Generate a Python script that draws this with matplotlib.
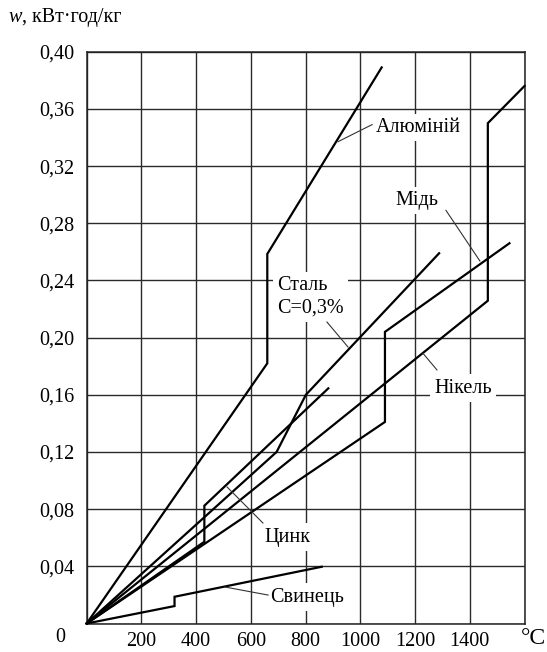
import matplotlib
matplotlib.use("Agg")
import matplotlib.pyplot as plt

plt.rcParams['font.family'] = ['Liberation Serif', 'DejaVu Serif']

# Specific heat content w (kWh/kg) versus temperature (°C)
al_t = [0, 660, 660, 1078]
al_w = [0, 0.182, 0.2585, 0.389]

steel_t = [0, 694, 801, 1288]
steel_w = [0, 0.120, 0.160, 0.259]

zinc_t = [0, 430, 430, 883]
zinc_w = [0, 0.0572, 0.0824, 0.1645]

copper_t = [0, 1090, 1090, 1545]
copper_w = [0, 0.141, 0.204, 0.266]

nickel_t = [0, 1466, 1466, 1600]
nickel_w = [0, 0.2258, 0.350, 0.376]

lead_t = [0, 321, 321, 859]
lead_w = [0, 0.0122, 0.0187, 0.0397]

x_ticks = [0, 200, 400, 600, 800, 1000, 1200, 1400, 1600]
x_tick_labels = ['', '200', '400', '600', '800', '1000', '1200', '1400', '']
y_ticks = [0, 0.04, 0.08, 0.12, 0.16, 0.20, 0.24, 0.28, 0.32, 0.36, 0.40]
y_tick_labels = ['', '0,04', '0,08', '0,12', '0,16', '0,20', '0,24', '0,28',
                 '0,32', '0,36', '0,40']

# label text, text position, alignment, leader start, leader end (on curve)
labels = [
    ("Алюміній", (1211, 0.347), 'center', (1043, 0.349), (918, 0.337)),
    ("Мідь", (1207, 0.296), 'center', (1313, 0.289), (1437, 0.2536)),
    ("Сталь\nC=0,3%", (695, 0.2284), 'left', (878, 0.2109), (955, 0.1934)),
    ("Нікель", (1375, 0.1647), 'center', (1280, 0.1774), (1229, 0.189)),
    ("Цинк", (732, 0.0605), 'center', (644, 0.0703), (513, 0.0955)),
    ("Свинець", (805, 0.0185), 'center', (663, 0.0199), (506, 0.0255)),
]

W, H = 547, 652
fig = plt.figure(figsize=(W / 100, H / 100), dpi=100)
ax = fig.add_axes([86.7 / W, (H - 623.5) / H, 437.8 / W, 571.8 / H])

ax.set_xlim(0, 1600)
ax.set_ylim(0, 0.40)
ax.set_xticks(x_ticks)
ax.set_xticklabels(x_tick_labels)
ax.set_yticks(y_ticks)
ax.set_yticklabels(y_tick_labels)
ax.tick_params(axis='both', length=0, labelsize=14.5, colors='black')
ax.tick_params(axis='x', pad=6)
ax.tick_params(axis='y', pad=9)

ax.set_axisbelow(True)
ax.grid(True, color='#2a2a2a', linewidth=1.0)
for s in ax.spines.values():
    s.set_linewidth(1.1)
    s.set_color('#222222')

curve_kw = dict(color='black', linewidth=1.6, zorder=3, solid_joinstyle='miter')
for t, w in [(al_t, al_w), (steel_t, steel_w), (zinc_t, zinc_w),
             (copper_t, copper_w), (nickel_t, nickel_w), (lead_t, lead_w)]:
    ax.plot(t, w, clip_on=False, **curve_kw)

for text, pos, ha, p0, p1 in labels:
    ax.text(pos[0], pos[1], text, ha=ha, va='center', fontsize=14.5,
            linespacing=1.25, zorder=2,
            bbox=dict(facecolor='white', edgecolor='none', pad=3))
    ax.plot([p0[0], p1[0]], [p0[1], p1[1]], color='#333333', linewidth=0.8,
            zorder=3)

# origin label and unit of the temperature axis
fig.text(60.5 / W, 1 - 638 / H, "0", ha='center', va='center', fontsize=14.5)
fig.text(533 / W, 1 - 639 / H, "°C", ha='center', va='center', fontsize=17)

# label of the vertical axis
wt = fig.text(9 / W, 1 - 22 / H, "w", ha='left', va='baseline',
              fontsize=14.5, style='italic')
ax.annotate(", кВт·год/кг", xy=(1, 0), xycoords=wt, va='bottom',
            ha='left', fontsize=14.5, annotation_clip=False)

fig.savefig("out.png", dpi=100)
